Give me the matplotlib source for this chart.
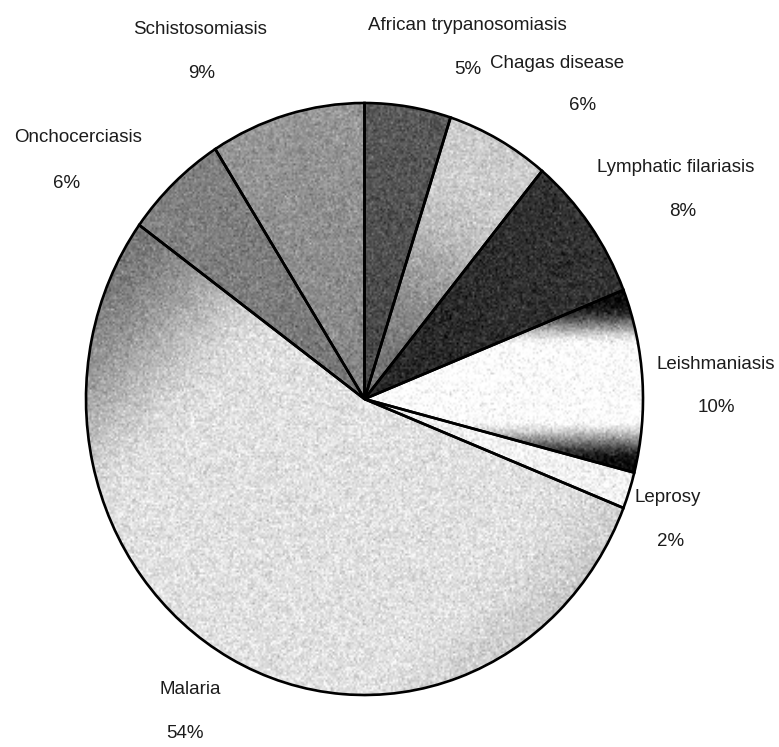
import numpy as np
import matplotlib
matplotlib.use("Agg")
import matplotlib.pyplot as plt

# Share of disease burden (%)
diseases = ["African trypanosomiasis", "Chagas disease", "Lymphatic filariasis",
            "Leishmaniasis", "Leprosy", "Malaria", "Onchocerciasis", "Schistosomiasis"]
shares = [5, 6, 8, 10, 2, 54, 6, 9]

# Label anchor points (pixel centres: name, percentage)
name_pos = [(467, 25), (557, 63), (676, 167), (716, 364), (668, 498), (190, 689), (78, 138), (200, 29)]
pct_pos = [(468, 69), (583, 105), (683, 211), (716, 407), (671, 541), (185, 733), (67, 183), (202, 73)]

W, H = 779, 747
fig = plt.figure(figsize=(W / 100, H / 100), dpi=100)
fig.patch.set_facecolor("white")

# Axes sized so that the unit pie becomes a slightly tall ellipse
ax = fig.add_axes([58.15 / W, 1 - 724.6 / H, 612.7 / W, 651.2 / H])

wedges, _ = ax.pie(shares, startangle=90, counterclock=False, radius=1,
                   wedgeprops=dict(facecolor="none", edgecolor="black", linewidth=1.9))
for w in wedges:
    w.set_zorder(3)


def smoothstep(e0, e1, x):
    t = np.clip((x - e0) / (e1 - e0), 0, 1)
    return t * t * (3 - 2 * t)


N = 330
lim = 1.05
g = np.linspace(-lim, lim, N)
X, Y = np.meshgrid(g, g)
R = np.hypot(X, Y)
T = (X - Y) / np.sqrt(2)

shading = [
    0.27 + 0.08 * R,                                                     # African trypanosomiasis
    0.45 + 0.35 * smoothstep(0.1, 0.85, R),                              # Chagas disease
    0.15 + 0.05 * R,                                                     # Lymphatic filariasis
    1.0 - 0.95 * smoothstep(0.12, 0.27, np.abs(Y - 0.055)),              # Leishmaniasis
    0.95 + 0 * R,                                                        # Leprosy
    0.88 - 0.42 * smoothstep(-0.35, -1.0, T) - 0.1 * smoothstep(0.7, 1.05, T),  # Malaria
    0.46 + 0.05 * R,                                                     # Onchocerciasis
    0.52 + 0.07 * R,                                                     # Schistosomiasis
]

# Print-like grain in the fills
grain = np.random.default_rng(7).normal(0, 0.06, (N, N))

for w, shade in zip(wedges, shading):
    img = np.clip(shade + grain, 0, 1)
    im = ax.imshow(img, cmap="gray", vmin=0, vmax=1, origin="lower",
                   extent=[-lim, lim, -lim, lim], interpolation="bilinear",
                   aspect="auto", zorder=1)
    im.set_clip_path(w)

ax.set_aspect("auto")
ax.set_xlim(-1.1, 1.1)
ax.set_ylim(-1.1, 1.1)
ax.axis("off")

font = dict(family="Liberation Sans", fontsize=13.5, color="#1c1c1c",
            ha="center", va="center")
for name, share, (nx, ny), (px_, py_) in zip(diseases, shares, name_pos, pct_pos):
    fig.text(nx / W, 1 - ny / H, name, **font)
    fig.text(px_ / W, 1 - py_ / H, f"{share}%", **font)

fig.savefig("out.png", dpi=100, facecolor="white")
